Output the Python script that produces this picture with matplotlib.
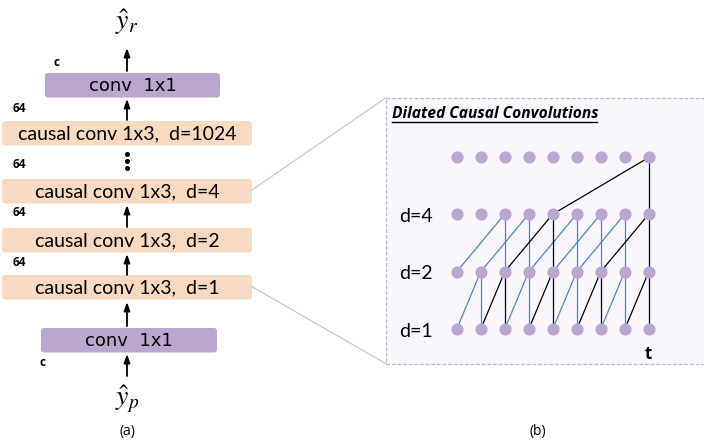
import matplotlib.pyplot as plt
from matplotlib.patches import FancyBboxPatch, Rectangle

plt.rcParams["mathtext.fontset"] = "stix"

# left stack (a): top to bottom
layer_names = ["conv  1x1", "causal conv 1x3,  d=1024", "causal conv 1x3,  d=4",
               "causal conv 1x3,  d=2", "causal conv 1x3,  d=1", "conv  1x1"]
layer_kind = ["conv", "causal", "causal", "causal", "causal", "conv"]
channel_labels = ["c", "64", "64", "64", "64", "c"]

# right panel (b): dilated causal convolutions
n_steps = 9
dilations = [1, 2, 4]
row_labels = ["d=1", "d=2", "d=4"]
t_index = 8

PURPLE = "#bba6d0"
PEACH = "#f8dac2"
BLUE = "#4f81d0"

fig = plt.figure(figsize=(7.04, 4.4), dpi=100)
ax = fig.add_axes([0, 0, 1, 1])
ax.set_xlim(0, 704)
ax.set_ylim(440, 0)
ax.axis("off")

# ---- (a) ----
box_x = {"conv": (45, 220), "causal": (2, 252)}
box_top = [73, 121, 179, 228, 275, 328]
box_h = 24.5
cx = 127
for i, (name, kind) in enumerate(zip(layer_names, layer_kind)):
    x0, x1 = box_x[kind]
    if i == 5:
        x0, x1 = 41, 217
    col = PURPLE if kind == "conv" else PEACH
    ax.add_patch(FancyBboxPatch((x0, box_top[i]), x1 - x0, box_h,
                                boxstyle="round,pad=0,rounding_size=3",
                                fc=col, ec="none"))
    if kind == "conv":
        ax.text((x0 + x1) / 2, box_top[i] + box_h / 2 + 1, name, ha="center", va="center",
                fontsize=13, family="DejaVu Sans")
    else:
        ax.text((x0 + x1) / 2, box_top[i] + box_h / 2 + 1, name, ha="center", va="center",
                fontsize=14, family="Lato")

chan_pos = [(56, 62), (19, 109), (19, 165), (19, 213), (19, 263), (19, 314)]
for lab, (x, y) in zip(channel_labels[:-1], chan_pos):
    ax.text(x, y, lab, ha="center", va="center", fontsize=8.5, fontweight="bold", family="Open Sans")
ax.text(43, 363, channel_labels[-1], ha="center", va="center", fontsize=8.5,
        fontweight="bold", family="Open Sans")

arrows = [(71, 48), (120, 99), (227, 205), (275, 254), (326, 302), (376, 354)]
for y0, y1 in arrows:
    ax.annotate("", xy=(cx, y1), xytext=(cx, y0),
                arrowprops=dict(arrowstyle="-|>,head_length=0.5,head_width=0.18",
                                color="black", lw=1.3, shrinkA=0, shrinkB=0))

for y in [154, 161, 168.5]:
    ax.plot(cx, y, "o", color="black", ms=2.6)

ax.text(cx, 22, r"$\hat{y}_r$", ha="center", va="center", fontsize=20)
ax.text(cx, 399, r"$\hat{y}_p$", ha="center", va="center", fontsize=20)
ax.text(cx, 432, "(a)", ha="center", va="center", fontsize=10, family="Open Sans")
ax.text(538, 432, "(b)", ha="center", va="center", fontsize=10, family="Open Sans")

# zoom lines
ax.plot([252, 386], [190, 97.7], color="#c8c8c8", lw=0.9)
ax.plot([252, 386], [286.7, 363.7], color="#c8c8c8", lw=0.9)

# ---- (b) ----
ax.add_patch(Rectangle((386, 97.7), 330, 266, fc="#f9f7fd", ec="#bdbdbd",
                       lw=0.9, ls=(0, (3, 1.5))))
ax.text(392, 113.5, "Dilated Causal Convolutions", ha="left", va="center", fontsize=11.2,
        fontweight="bold", style="italic", family="Open Sans")
ax.plot([392, 597], [122, 122], color="black", lw=1)

row_y = [329.3, 271.7, 214.2, 157.5]
col_x = [456.7 + 24 * i for i in range(n_steps)]

# receptive field of output t
active = [set() for _ in row_y]
active[3] = {t_index}
for r in range(3, 0, -1):
    d = dilations[r - 1]
    for j in active[r]:
        active[r - 1].update({j, j - d})

for r, d in enumerate(dilations):
    upper = range(n_steps) if r < 2 else [t_index]
    for j in upper:
        if j - d < 0:
            continue
        col = "black" if j in active[r + 1] else BLUE
        z = 3 if col == "black" else 2
        ax.plot([col_x[j], col_x[j]], [row_y[r + 1], row_y[r]], color=col, lw=0.9, zorder=z)
        ax.plot([col_x[j], col_x[j - d]], [row_y[r + 1], row_y[r]], color=col, lw=0.9, zorder=z)

for y in row_y:
    ax.plot(col_x, [y] * n_steps, "o", color=PURPLE, ms=8.8, mec="none", zorder=4)

for lab, y in zip(row_labels, row_y[:3]):
    ax.text(416, y + 2, lab, ha="center", va="center", fontsize=14, family="Lato")
ax.text(col_x[t_index], 354, "t", ha="center", va="center", fontsize=12,
        fontweight="bold", family="Open Sans")

fig.savefig("out.png", dpi=100)
